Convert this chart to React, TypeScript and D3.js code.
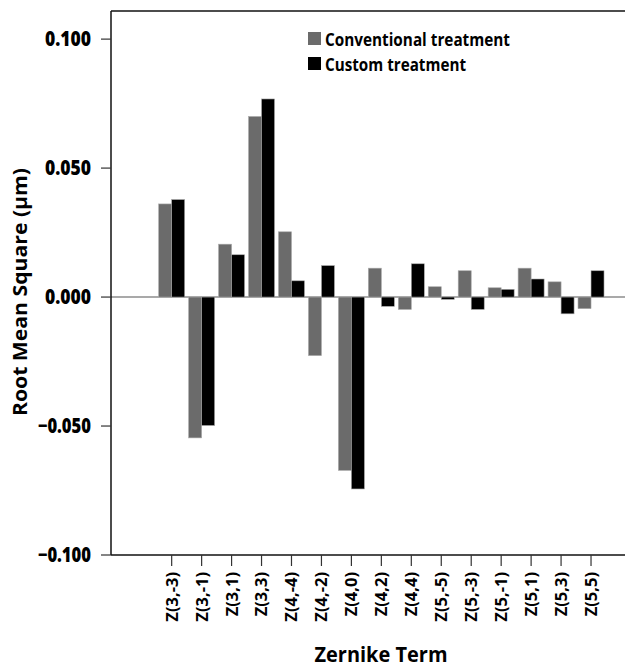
import React from "react";
import * as d3 from "d3";

const categories = ["Z(3,-3)", "Z(3,-1)", "Z(3,1)", "Z(3,3)", "Z(4,-4)", "Z(4,-2)", "Z(4,0)", "Z(4,2)", "Z(4,4)", "Z(5,-5)", "Z(5,-3)", "Z(5,-1)", "Z(5,1)", "Z(5,3)", "Z(5,5)"];
const conventional = [0.0361, -0.0546, 0.0205, 0.07, 0.0253, -0.0227, -0.0672, 0.0112, -0.0048, 0.004, 0.0102, 0.0036, 0.0112, 0.0059, -0.0045];
const custom = [0.0378, -0.0498, 0.0164, 0.0768, 0.0063, 0.0122, -0.0744, -0.0036, 0.0129, -0.0009, -0.0048, 0.003, 0.007, -0.0065, 0.0102];
const yTicks = [-0.1, -0.05, 0, 0.05, 0.1];
const seriesNames = ["Conventional treatment", "Custom treatment"];
const seriesColors = ["#6b6b6b", "#000000"];

export default function App() {
  const W = 625, H = 667;
  const left = 111, top = 11, bottom = 555, right = 625;
  const y = d3.scaleLinear().domain([-0.1, 0.1109]).range([bottom, top]);
  const x = d3.scaleBand<string>().domain(categories).range([156.7, 606]).padding(0);
  const bw = 13;
  const font = "'Open Sans', sans-serif";
  const fmt = d3.format(".3f");
  const series = [conventional, custom];
  const legendLen = [185, 141];
  return (
    <svg width={W} height={H} style={{ position: "absolute", left: 0, top: 0, background: "#fff" }}>
      {/* zero line */}
      <line x1={left} x2={right} y1={y(0)} y2={y(0)} stroke="#8c8c8c" strokeWidth={1.5} />
      {/* bars */}
      {series.map((vals, si) =>
        vals.map((v, i) => {
          const c = x(categories[i])! + x.bandwidth() / 2;
          const x0 = si === 0 ? c - bw : c;
          const y0 = Math.min(y(v), y(0));
          const h = Math.abs(y(v) - y(0));
          return (
            <rect key={`${si}-${i}`} x={x0} y={y0} width={bw} height={h} fill={seriesColors[si]} stroke="#aaaaaa" strokeWidth={0.6} />
          );
        })
      )}
      {/* frame */}
      <line x1={left} x2={right} y1={top} y2={top} stroke="#111" strokeWidth={1.5} />
      <line x1={left} x2={right} y1={bottom} y2={bottom} stroke="#111" strokeWidth={1.5} />
      <line x1={left} x2={left} y1={top} y2={bottom} stroke="#111" strokeWidth={1.5} />
      {/* y ticks */}
      {yTicks.map((t) => (
        <g key={t}>
          <line x1={left - 10} x2={left} y1={y(t)} y2={y(t)} stroke="#333" strokeWidth={1.2} />
          <text x={91} y={y(t)} dy="0.36em" textAnchor="end" fontFamily={font} fontWeight={800} fontSize={20.5}
            textLength={t < 0 ? 53 : 46} lengthAdjust="spacingAndGlyphs" fill="#000">
            {fmt(t)}
          </text>
        </g>
      ))}
      {/* x ticks */}
      {categories.map((c) => {
        const cx = x(c)! + x.bandwidth() / 2;
        return (
          <g key={c}>
            <line x1={cx} x2={cx} y1={bottom} y2={bottom + 11} stroke="#333" strokeWidth={1.2} />
            <text transform={`translate(${cx},${572}) rotate(-90)`} dy="0.36em" textAnchor="end" fontFamily={font} fontWeight={700} fontSize={16.5} fill="#000">
              {c}
            </text>
          </g>
        );
      })}
      {/* axis titles */}
      <text transform={`translate(27,292) rotate(-90)`} textAnchor="middle" fontFamily={font} fontWeight={700} fontSize={19.5}
        textLength={248} lengthAdjust="spacingAndGlyphs" fill="#000">
        Root Mean Square (μm)
      </text>
      <text x={381} y={662} textAnchor="middle" fontFamily={font} fontWeight={700} fontSize={21}
        textLength={133} lengthAdjust="spacingAndGlyphs" fill="#000">
        Zernike Term
      </text>
      {/* legend */}
      {seriesNames.map((n, i) => (
        <g key={n} transform={`translate(308,${32 + i * 25})`}>
          <rect x={0} y={0} width={13} height={13} fill={seriesColors[i]} />
          <text x={17} y={13.5} fontFamily={font} fontWeight={700} fontSize={18.5}
            textLength={legendLen[i]} lengthAdjust="spacingAndGlyphs" fill="#000">
            {n}
          </text>
        </g>
      ))}
    </svg>
  );
}
